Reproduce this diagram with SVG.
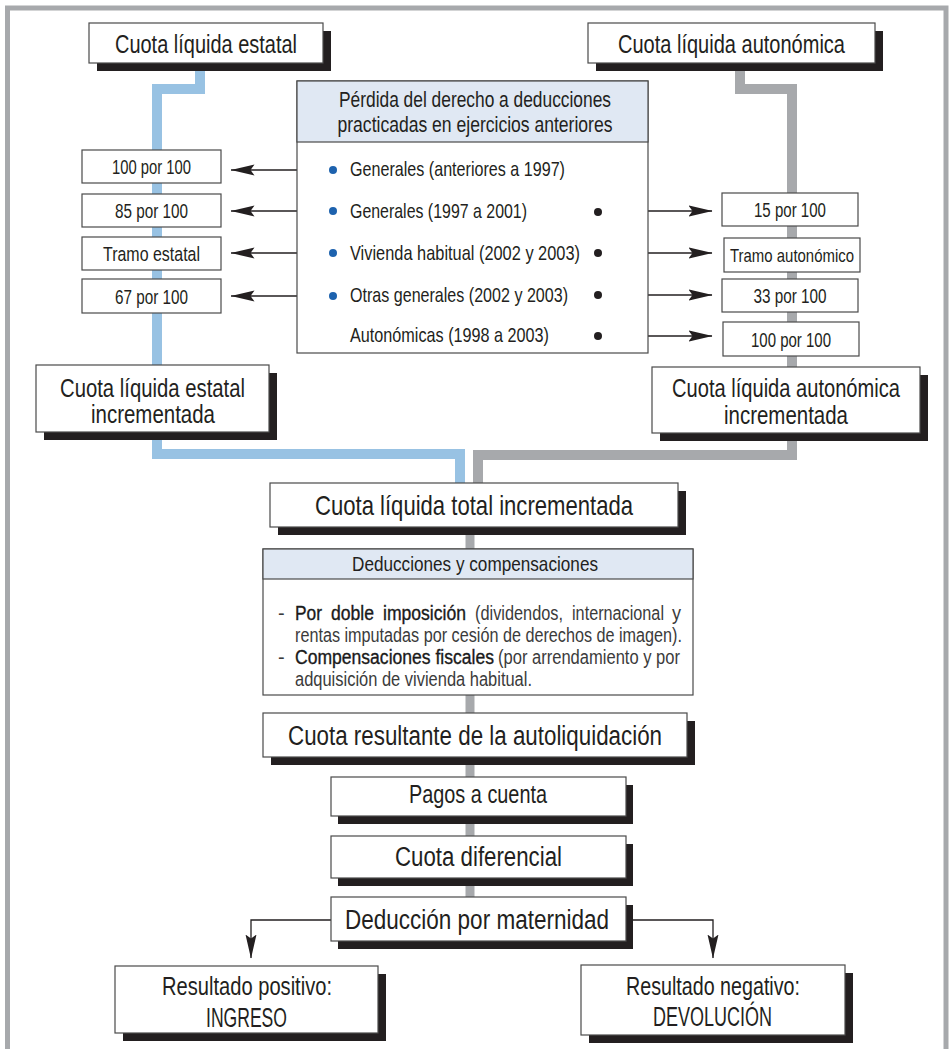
<svg xmlns="http://www.w3.org/2000/svg" width="949" height="1049" viewBox="0 0 949 1049">
  <style>
    .frame { fill: none; stroke: #a7a9ac; stroke-width: 5; }
    .shadow { fill: #231f20; }
    .box { fill: #ffffff; stroke: #4a4a4a; stroke-width: 1.2; }
    .hdr { fill: #e0e8f3; stroke: #4a4a4a; stroke-width: 1.2; }
    .t { font-family: "Liberation Sans", Arial, sans-serif; fill: #231f20; text-anchor: middle; }
    .s { font-family: "Liberation Sans", Arial, sans-serif; fill: #231f20; text-anchor: start; }
    .body { fill: #3b3b3b; }
    .strong { fill: #1a1a1a; stroke: #1a1a1a; stroke-width: 0.35; }
    .blue { fill: none; stroke: #98c2e3; stroke-width: 10; stroke-linejoin: miter; }
    .gray { fill: none; stroke: #a7a9ac; stroke-width: 10; stroke-linejoin: miter; }
    .grayc { fill: none; stroke: #a7a9ac; stroke-width: 9; }
    .arr { fill: none; stroke: #231f20; stroke-width: 1.3; }
    .bdot { fill: #1d62ae; }
    .kdot { fill: #231f20; }
  </style>
  <defs>
    <marker id="head" viewBox="0 0 24 12" refX="23.5" refY="6" markerWidth="24" markerHeight="12" markerUnits="userSpaceOnUse" orient="auto">
      <path d="M0,0.5 L24,6 L0,11.5 L4,6 Z" fill="#231f20"/>
    </marker>
  </defs>

  <!-- outer frame -->
  <rect class="frame" x="7.5" y="8" width="938.5" height="1050"/>

  <!-- connectors -->
  <g id="connectors">
    <path class="blue" d="M200,63 V89 H157 V365"/>
    <path class="gray" d="M740,63 V89 H792 V367"/>
    <path class="blue" d="M157,432 V454 H460 V483"/>
    <path class="gray" d="M792,433 V455 H478 V483"/>
    <path class="grayc" d="M470,527 V897"/>

    <path class="arr" d="M322,170 H231" marker-end="url(#head)"/>
    <path class="arr" d="M322,211 H231" marker-end="url(#head)"/>
    <path class="arr" d="M322,253 H231" marker-end="url(#head)"/>
    <path class="arr" d="M322,296 H231" marker-end="url(#head)"/>

    <path class="arr" d="M622,211 H712" marker-end="url(#head)"/>
    <path class="arr" d="M622,253 H712" marker-end="url(#head)"/>
    <path class="arr" d="M622,295 H712" marker-end="url(#head)"/>
    <path class="arr" d="M622,336 H712" marker-end="url(#head)"/>

    <path class="arr" d="M331,920 H251 V958" marker-end="url(#head)"/>
    <path class="arr" d="M626,920 H713 V958" marker-end="url(#head)"/>
  </g>

  <!-- top nodes -->
  <g id="cuota-estatal">
    <rect class="shadow" x="97" y="31" width="234" height="40"/>
    <rect class="box" x="89" y="23" width="234" height="40"/>
    <text class="t" x="206" y="53" font-size="26" textLength="182" lengthAdjust="spacingAndGlyphs">Cuota líquida estatal</text>
  </g>
  <g id="cuota-autonomica">
    <rect class="shadow" x="596" y="31" width="287" height="40"/>
    <rect class="box" x="588" y="23" width="287" height="40"/>
    <text class="t" x="731.5" y="53" font-size="26" textLength="227" lengthAdjust="spacingAndGlyphs">Cuota líquida autonómica</text>
  </g>

  <!-- loss of deductions panel -->
  <g id="perdida">
    <rect class="box" x="297" y="81" width="351" height="272"/>
    <rect class="hdr" x="297" y="81" width="351" height="61"/>
    <text class="t" x="475" y="107" font-size="22" textLength="272" lengthAdjust="spacingAndGlyphs">Pérdida del derecho a deducciones</text>
    <text class="t" x="475" y="132" font-size="22" textLength="275" lengthAdjust="spacingAndGlyphs">practicadas en ejercicios anteriores</text>

    <circle class="bdot" cx="333" cy="170" r="4"/>
    <circle class="bdot" cx="333" cy="211" r="4"/>
    <circle class="bdot" cx="333" cy="253" r="4"/>
    <circle class="bdot" cx="333" cy="296" r="4"/>

    <circle class="kdot" cx="598" cy="212" r="4"/>
    <circle class="kdot" cx="598" cy="253" r="4"/>
    <circle class="kdot" cx="598" cy="295" r="4"/>
    <circle class="kdot" cx="598" cy="336" r="4"/>

    <text class="s" x="350" y="176" font-size="21" textLength="215" lengthAdjust="spacingAndGlyphs">Generales (anteriores a 1997)</text>
    <text class="s" x="350" y="218" font-size="21" textLength="177" lengthAdjust="spacingAndGlyphs">Generales (1997 a 2001)</text>
    <text class="s" x="350" y="260" font-size="21" textLength="230" lengthAdjust="spacingAndGlyphs">Vivienda habitual (2002 y 2003)</text>
    <text class="s" x="350" y="302" font-size="21" textLength="218" lengthAdjust="spacingAndGlyphs">Otras generales (2002 y 2003)</text>
    <text class="s" x="350" y="342" font-size="21" textLength="199" lengthAdjust="spacingAndGlyphs">Autonómicas (1998 a 2003)</text>
  </g>

  <!-- state percentages -->
  <g id="e-100">
    <rect class="box" x="82" y="150" width="139" height="33"/>
    <text class="t" x="151.5" y="174" font-size="20.5" textLength="79" lengthAdjust="spacingAndGlyphs">100 por 100</text>
  </g>
  <g id="e-85">
    <rect class="box" x="82" y="194" width="139" height="33"/>
    <text class="t" x="151.5" y="218" font-size="20.5" textLength="73" lengthAdjust="spacingAndGlyphs">85 por 100</text>
  </g>
  <g id="e-tramo">
    <rect class="box" x="82" y="237" width="139" height="33"/>
    <text class="t" x="151.5" y="261" font-size="20.5" textLength="97" lengthAdjust="spacingAndGlyphs">Tramo estatal</text>
  </g>
  <g id="e-67">
    <rect class="box" x="82" y="279" width="139" height="34"/>
    <text class="t" x="151.5" y="303.5" font-size="20.5" textLength="73" lengthAdjust="spacingAndGlyphs">67 por 100</text>
  </g>

  <!-- regional percentages -->
  <g id="a-15">
    <rect class="box" x="722" y="193" width="136" height="33"/>
    <text class="t" x="790" y="217" font-size="20.5" textLength="72" lengthAdjust="spacingAndGlyphs">15 por 100</text>
  </g>
  <g id="a-tramo">
    <rect class="box" x="724" y="238" width="136" height="34"/>
    <text class="t" x="792" y="262" font-size="19" textLength="124" lengthAdjust="spacingAndGlyphs">Tramo autonómico</text>
  </g>
  <g id="a-33">
    <rect class="box" x="722" y="279" width="136" height="33"/>
    <text class="t" x="790" y="303" font-size="20.5" textLength="73" lengthAdjust="spacingAndGlyphs">33 por 100</text>
  </g>
  <g id="a-100">
    <rect class="box" x="723" y="322" width="136" height="34"/>
    <text class="t" x="791" y="346.5" font-size="20.5" textLength="80" lengthAdjust="spacingAndGlyphs">100 por 100</text>
  </g>

  <!-- increased quotas -->
  <g id="estatal-incrementada">
    <rect class="shadow" x="44" y="373" width="233" height="67"/>
    <rect class="box" x="36" y="365" width="233" height="67"/>
    <text class="t" x="152.5" y="397" font-size="25" textLength="185" lengthAdjust="spacingAndGlyphs">Cuota líquida estatal</text>
    <text class="t" x="153" y="423" font-size="25" textLength="124" lengthAdjust="spacingAndGlyphs">incrementada</text>
  </g>
  <g id="autonomica-incrementada">
    <rect class="shadow" x="660" y="375" width="268" height="66"/>
    <rect class="box" x="652" y="367" width="268" height="66"/>
    <text class="t" x="786" y="397" font-size="25" textLength="228" lengthAdjust="spacingAndGlyphs">Cuota líquida autonómica</text>
    <text class="t" x="786" y="424" font-size="25" textLength="124" lengthAdjust="spacingAndGlyphs">incrementada</text>
  </g>

  <g id="total-incrementada">
    <rect class="shadow" x="278" y="491" width="408" height="44"/>
    <rect class="box" x="270" y="483" width="408" height="44"/>
    <text class="t" x="474" y="515" font-size="28" textLength="318" lengthAdjust="spacingAndGlyphs">Cuota líquida total incrementada</text>
  </g>

  <!-- deductions panel -->
  <g id="deducciones">
    <rect class="box" x="263" y="549" width="430" height="146"/>
    <rect class="hdr" x="263" y="549" width="430" height="30"/>
    <text class="t" x="475" y="571" font-size="21" textLength="246" lengthAdjust="spacingAndGlyphs">Deducciones y compensaciones</text>

    <text class="s body" x="278" y="620" font-size="20">-</text>
    <text class="s strong" x="295" y="620" font-size="20" textLength="27" lengthAdjust="spacingAndGlyphs">Por</text>
    <text class="s strong" x="331" y="620" font-size="20" textLength="43" lengthAdjust="spacingAndGlyphs">doble</text>
    <text class="s strong" x="383" y="620" font-size="20" textLength="83" lengthAdjust="spacingAndGlyphs">imposición</text>
    <text class="s body" x="475" y="620" font-size="20" textLength="88" lengthAdjust="spacingAndGlyphs">(dividendos,</text>
    <text class="s body" x="572" y="620" font-size="20" textLength="92" lengthAdjust="spacingAndGlyphs">internacional</text>
    <text class="s body" x="672" y="620" font-size="20" textLength="9" lengthAdjust="spacingAndGlyphs">y</text>

    <text class="s body" x="295" y="642" font-size="20" textLength="387" lengthAdjust="spacingAndGlyphs">rentas imputadas por cesión de derechos de imagen).</text>

    <text class="s body" x="278" y="664" font-size="20">-</text>
    <text class="s strong" x="295" y="664" font-size="20" textLength="199" lengthAdjust="spacingAndGlyphs">Compensaciones fiscales</text>
    <text class="s body" x="498" y="664" font-size="20" textLength="182" lengthAdjust="spacingAndGlyphs">(por arrendamiento y por</text>

    <text class="s body" x="295" y="686" font-size="20" textLength="237" lengthAdjust="spacingAndGlyphs">adquisición de vivienda habitual.</text>
  </g>

  <g id="resultante">
    <rect class="shadow" x="271" y="721" width="424" height="44"/>
    <rect class="box" x="263" y="713" width="424" height="44"/>
    <text class="t" x="475" y="745" font-size="27" textLength="374" lengthAdjust="spacingAndGlyphs">Cuota resultante de la autoliquidación</text>
  </g>

  <g id="pagos">
    <rect class="shadow" x="338" y="785" width="295" height="39"/>
    <rect class="box" x="331" y="777" width="295" height="39"/>
    <text class="t" x="478" y="803" font-size="26" textLength="138" lengthAdjust="spacingAndGlyphs">Pagos a cuenta</text>
  </g>

  <g id="diferencial">
    <rect class="shadow" x="338" y="844" width="295" height="42"/>
    <rect class="box" x="331" y="836" width="295" height="42"/>
    <text class="t" x="478.5" y="866" font-size="27" textLength="167" lengthAdjust="spacingAndGlyphs">Cuota diferencial</text>
  </g>

  <g id="maternidad">
    <rect class="shadow" x="338" y="905" width="295" height="44"/>
    <rect class="box" x="331" y="897" width="295" height="44"/>
    <text class="t" x="477" y="929" font-size="27" textLength="264" lengthAdjust="spacingAndGlyphs">Deducción por maternidad</text>
  </g>

  <!-- outcomes -->
  <g id="positivo">
    <rect class="shadow" x="123" y="974" width="263" height="67"/>
    <rect class="box" x="115" y="966" width="263" height="67"/>
    <text class="t" x="247" y="995" font-size="26" textLength="170" lengthAdjust="spacingAndGlyphs">Resultado positivo:</text>
    <text class="t" x="246.5" y="1027" font-size="27" textLength="81" lengthAdjust="spacingAndGlyphs">INGRESO</text>
  </g>
  <g id="negativo">
    <rect class="shadow" x="589" y="973" width="264" height="70"/>
    <rect class="box" x="581" y="965" width="264" height="70"/>
    <text class="t" x="713" y="995" font-size="26" textLength="174" lengthAdjust="spacingAndGlyphs">Resultado negativo:</text>
    <text class="t" x="712.5" y="1026" font-size="27" textLength="119" lengthAdjust="spacingAndGlyphs">DEVOLUCIÓN</text>
  </g>
</svg>
